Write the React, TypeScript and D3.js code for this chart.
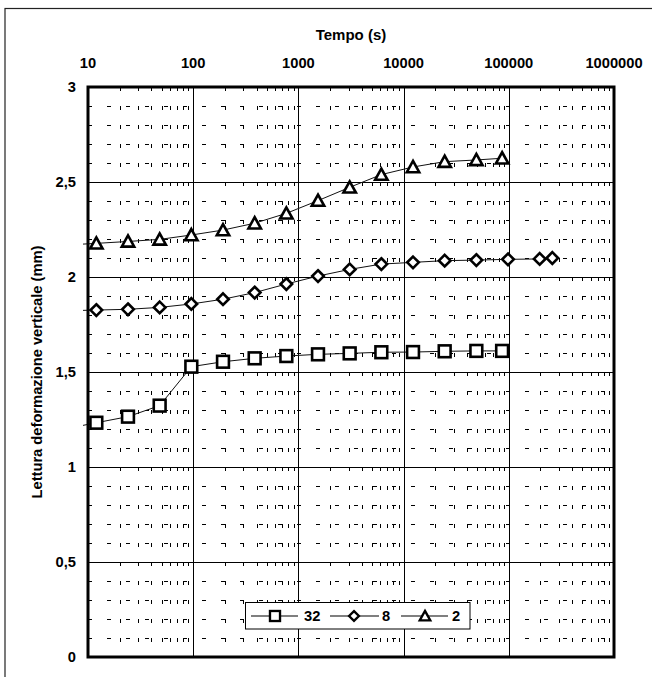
import React from 'react';
import * as d3 from 'd3';

// time (s) for series 32 and 2; a leading 6 s reading lies outside the axis (only its line stub is visible)
const timesA = [6, 12, 24, 48, 96, 192, 384, 768, 1536, 3072, 6144, 12288, 24576, 49152, 86400];
const timesB = [6, 12, 24, 48, 96, 192, 384, 768, 1536, 3072, 6144, 12288, 24576, 49152, 98304, 196608, 259200];

const values32 = [1.2, 1.233, 1.265, 1.323, 1.528, 1.554, 1.572, 1.584, 1.593, 1.598, 1.604, 1.605, 1.609, 1.611, 1.611];
const values8 = [1.822, 1.826, 1.83, 1.84, 1.858, 1.883, 1.918, 1.963, 2.005, 2.04, 2.068, 2.077, 2.086, 2.089, 2.093, 2.095, 2.1];
const values2 = [2.168, 2.177, 2.187, 2.198, 2.221, 2.247, 2.283, 2.335, 2.402, 2.472, 2.539, 2.579, 2.607, 2.616, 2.625];

const seriesNames = ['32', '8', '2'];
const xTicks = [10, 100, 1000, 10000, 100000, 1000000];
const yTicks = [0, 0.5, 1, 1.5, 2, 2.5, 3];
const yTickLabels = ['0', '0,5', '1', '1,5', '2', '2,5', '3'];
const xTitle = 'Tempo (s)';
const yTitle = 'Lettura deformazione verticale (mm)';

const FONT = '"Liberation Sans", Arial, sans-serif';

type Shape = 'square' | 'diamond' | 'triangle';

function Marker({ shape, x, y, s = 1 }: { shape: Shape; x: number; y: number; s?: number }) {
  const common = { fill: '#fff', stroke: '#000', strokeWidth: 2.6 * (s < 1 ? 0.9 : 1), strokeLinejoin: 'miter' as const };
  if (shape === 'square') {
    const h = 5.9 * s;
    return <rect x={x - h} y={y - h} width={2 * h} height={2 * h} {...common} />;
  }
  if (shape === 'diamond') {
    const h = 5.8 * s;
    return <path d={`M${x},${y - h}L${x + h},${y}L${x},${y + h}L${x - h},${y}Z`} {...common} />;
  }
  const w = 6.2 * s;
  return <path d={`M${x},${y - 6 * s}L${x + w},${y + 5.2 * s}L${x - w},${y + 5.2 * s}Z`} {...common} />;
}

export default function App() {
  const left = 88, right = 614, top = 87, bottom = 657;
  const x = d3.scaleLog().domain([10, 1e6]).range([left, right]);
  const y = d3.scaleLinear().domain([0, 3]).range([bottom, top]);

  const xMinor: number[] = [];
  for (let d = 10; d < 1e6; d *= 10) for (let k = 2; k <= 9; k++) xMinor.push(d * k);
  const yMinor: number[] = [];
  for (let i = 1; i < 30; i++) if (i % 5 !== 0) yMinor.push(i / 10);

  const series = [
    { name: seriesNames[0], times: timesA, values: values32, shape: 'square' as Shape },
    { name: seriesNames[1], times: timesB, values: values8, shape: 'diamond' as Shape },
    { name: seriesNames[2], times: timesA, values: values2, shape: 'triangle' as Shape },
  ];

  const line = d3.line<[number, number]>().x(d => x(d[0])).y(d => y(d[1]));

  const legendItems = [
    { x0: 251, x1: 298, m: 275, tx: 304 },
    { x0: 330, x1: 379, m: 354, tx: 382 },
    { x0: 401, x1: 448, m: 425, tx: 452 },
  ];

  return (
    <svg width={652} height={677} style={{ position: 'absolute', left: 0, top: 0, background: '#fff' }} fontFamily={FONT}>
      <rect x={0} y={0} width={652} height={677} fill="#fff" />
      <rect x={5} y={8.5} width={700} height={700} fill="none" stroke="#222" strokeWidth={1.2} />
      <defs>
        <clipPath id="plotclip">
          <rect x={left - 5} y={top} width={right - left + 5} height={bottom - top} />
        </clipPath>
      </defs>

      {/* minor grid */}
      {yMinor.map(v => (
        <line key={'ym' + v} x1={left} x2={right} y1={Math.round(y(v)) + 0.5} y2={Math.round(y(v)) + 0.5}
          stroke="#000" strokeWidth={1} strokeDasharray="4,15" />
      ))}
      {xMinor.map(v => (
        <line key={'xm' + v} x1={Math.round(x(v)) + 0.5} x2={Math.round(x(v)) + 0.5} y1={top} y2={bottom}
          stroke="#000" strokeWidth={1} strokeDasharray="4,15" />
      ))}
      {/* major grid */}
      {yTicks.map(v => (
        <line key={'yM' + v} x1={left} x2={right} y1={Math.round(y(v)) + 0.5} y2={Math.round(y(v)) + 0.5}
          stroke="#000" strokeWidth={1} />
      ))}
      {xTicks.map(v => (
        <line key={'xM' + v} x1={Math.round(x(v)) + 0.5} x2={Math.round(x(v)) + 0.5} y1={top} y2={bottom}
          stroke="#000" strokeWidth={1} />
      ))}

      {/* series lines */}
      <g clipPath="url(#plotclip)">
        {series.map(s => (
          <path key={'l' + s.name} d={line(s.times.map((t, i) => [t, s.values[i]] as [number, number])) || ''}
            fill="none" stroke="#111" strokeWidth={1} />
        ))}
      </g>

      {/* plot border */}
      <rect x={left} y={top} width={right - left} height={bottom - top} fill="none" stroke="#000" strokeWidth={3} />

      {/* markers */}
      {series.map(s => (
        <g key={'m' + s.name}>
          {s.times.map((t, i) => t >= 10 ? (
            <Marker key={i} shape={s.shape} x={x(t)} y={y(s.values[i])} />
          ) : null)}
        </g>
      ))}

      {/* x axis labels (top) */}
      {xTicks.map(v => (
        <text key={'xt' + v} x={x(v)} y={68} textAnchor="middle" fontSize={14.7} fontWeight="bold" fill="#000">
          {String(v)}
        </text>
      ))}
      <text x={(left + right) / 2} y={40} textAnchor="middle" fontSize={15} fontWeight="bold" fill="#000">{xTitle}</text>

      {/* y axis labels */}
      {yTicks.map((v, i) => (
        <text key={'yt' + v} x={76} y={y(v) + 5.3} textAnchor="end" fontSize={14.7} fontWeight="bold" fill="#000">
          {yTickLabels[i]}
        </text>
      ))}
      <text transform={`translate(42,${(top + bottom) / 2}) rotate(-90)`} textAnchor="middle" fontSize={14.7}
        fontWeight="bold" fill="#000">{yTitle}</text>

      {/* legend */}
      <rect x={245.5} y={602.5} width={224.5} height={26.5} fill="#fff" stroke="#000" strokeWidth={1} />
      {series.map((s, i) => {
        const it = legendItems[i];
        return (
          <g key={'lg' + s.name}>
            <line x1={it.x0} x2={it.x1} y1={616} y2={616} stroke="#555" strokeWidth={1.5} />
            <Marker shape={s.shape} x={it.m} y={616} s={0.85} />
            <text x={it.tx} y={621.3} fontSize={14.7} fontWeight="bold" fill="#000">{s.name}</text>
          </g>
        );
      })}
    </svg>
  );
}
